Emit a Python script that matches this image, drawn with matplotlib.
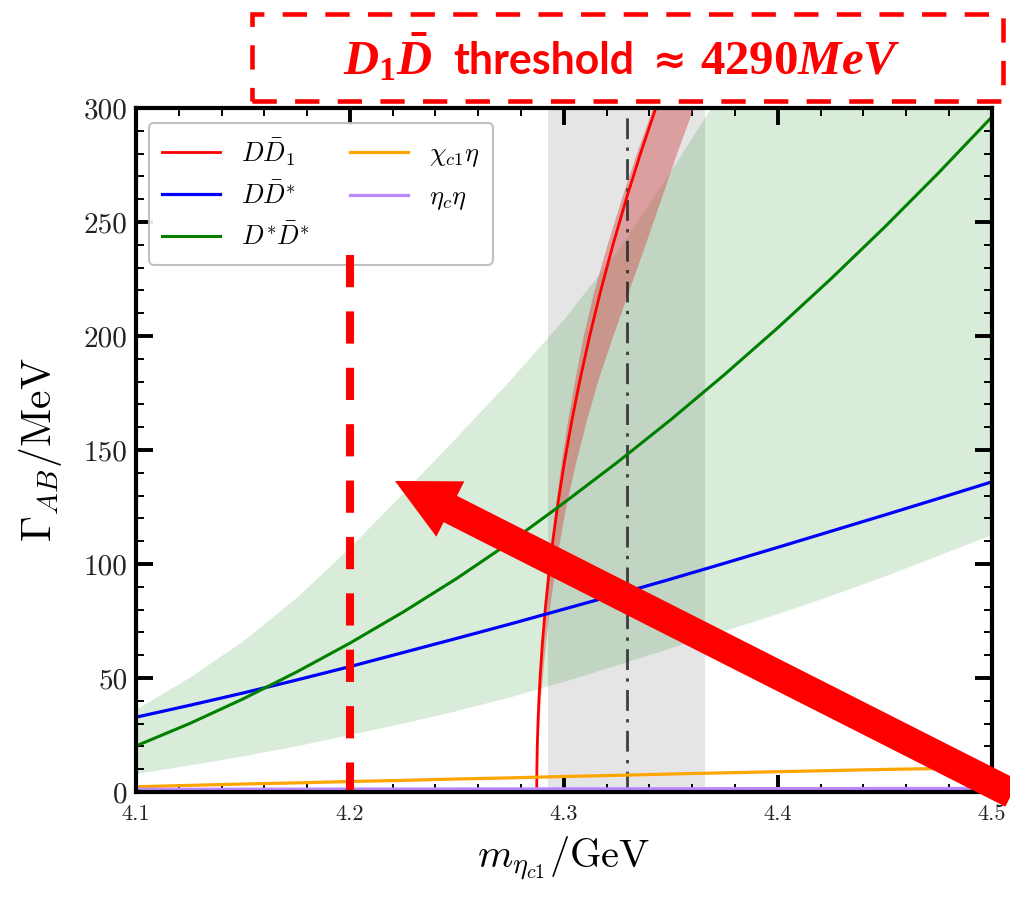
import matplotlib
matplotlib.use("Agg")
import matplotlib.pyplot as plt
from matplotlib.patches import FancyArrow, Rectangle
from matplotlib.transforms import IdentityTransform
from matplotlib.ticker import MultipleLocator

plt.rcParams['mathtext.fontset'] = 'cm'
plt.rcParams['mathtext.rm'] = 'Liberation Serif:bold'
plt.rcParams['mathtext.it'] = 'Liberation Serif:bold:italic'
plt.rcParams['mathtext.bf'] = 'Liberation Serif:bold'

# ---------------- data ----------------
mass = [4.100, 4.125, 4.150, 4.175, 4.200, 4.225, 4.250, 4.275, 4.300,
        4.325, 4.350, 4.375, 4.400, 4.425, 4.450, 4.475, 4.500]
g_DDstar = [32.8, 38.0, 43.4, 49.1, 55.0, 61.2, 67.4, 73.7, 80.2,
            86.7, 93.4, 100.3, 107.3, 114.4, 121.5, 128.7, 136.0]
g_DstarDstar = [20.2, 30.0, 40.8, 52.6, 65.3, 79.0, 93.7, 109.6, 126.8,
                144.6, 163.3, 183.0, 203.6, 225.2, 247.8, 271.4, 296.0]
g_DstarDstar_lo = [7.9, 11.6, 15.6, 20.0, 25.0, 30.0, 35.5, 41.5, 48.3,
                   55.5, 63.0, 70.5, 78.0, 86.0, 94.5, 103.5, 112.7]
g_DstarDstar_hi = [36.0, 50.0, 66.0, 85.0, 107.0, 131.0, 155.5, 180.5, 207.0,
                   237.0, 272.0, 309.0, 348.0, 390.0, 434.0, 480.0, 530.0]
g_chic1eta = [2.3, 2.9, 3.5, 4.0, 4.6, 5.1, 5.7, 6.2, 6.8,
              7.3, 7.9, 8.4, 8.9, 9.4, 9.9, 10.3, 10.8]
g_etaceta = [1.2, 1.2, 1.25, 1.25, 1.3, 1.3, 1.35, 1.35, 1.4,
             1.4, 1.45, 1.45, 1.5, 1.5, 1.55, 1.55, 1.6]

# D Dbar1 channel (steep near threshold): width levels and masses
g_DD1 = [0, 5, 10, 20, 30, 40, 50, 65, 80, 95, 110, 127, 145, 163, 181,
         200, 220, 240, 261, 280, 300]
m_DD1 = [4.28733, 4.28735, 4.28739, 4.28758, 4.28789, 4.28832, 4.28888, 4.28994,
         4.29129, 4.29291, 4.29481, 4.29731, 4.30033, 4.30376, 4.30759,
         4.31207, 4.31726, 4.32296, 4.32946, 4.33582, 4.34299]
m_DD1_lo = [4.28733, 4.28735, 4.28739, 4.28753, 4.28780, 4.28818, 4.28869, 4.28966,
            4.29092, 4.29244, 4.29420, 4.29628, 4.29879, 4.30175, 4.30516,
            4.30903, 4.31408, 4.32015, 4.32712, 4.33386, 4.34145]
m_DD1_hi = [4.28733, 4.28740, 4.28748, 4.28781, 4.28836, 4.28902, 4.28986, 4.29134,
            4.29316, 4.29539, 4.29794, 4.30128, 4.30561, 4.31054, 4.31601,
            4.32282, 4.33035, 4.33792, 4.34568, 4.35265, 4.36043]

mass_band = [4.2925, 4.3659]
mass_center = 4.3293
threshold_mark = 4.2
threshold_mark_top = 235.5

labels = [r'$D\bar{D}_1$', r'$D\bar{D}^{*}$', r'$D^{*}\bar{D}^{*}$', r'$\chi_{c1}\eta$', r'$\eta_c\eta$']
xticks = [4.1, 4.2, 4.3, 4.4, 4.5]
xticklabels = ['4.1', '4.2', '4.3', '4.4', '4.5']
yticks = [0, 50, 100, 150, 200, 250, 300]
yticklabels = ['0', '50', '100', '150', '200', '250', '300']
note_parts = [r'$D_1\bar{D}$', 'threshold', '\u2248', r'$\mathrm{4290}MeV$']

# ---------------- figure ----------------
W, H = 1010, 900
fig = plt.figure(figsize=(W / 100, H / 100), dpi=100)
ax = fig.add_axes([136 / W, 1 - 792 / H, (991.7 - 136) / W, (792 - 108) / H])

ax.axvspan(mass_band[0], mass_band[1], color='#808080', alpha=0.2, lw=0, zorder=1)
ax.fill_between(mass, g_DstarDstar_lo, g_DstarDstar_hi, color='green', alpha=0.15, lw=0, zorder=1)
ax.fill_betweenx(g_DD1, m_DD1_lo, m_DD1_hi, color='#d24a4a', alpha=0.45, lw=0, zorder=2)

l1, = ax.plot(m_DD1, g_DD1, color='red', lw=2.0, zorder=4)
l2, = ax.plot(mass, g_DDstar, color='blue', lw=2.3, zorder=4)
l3, = ax.plot(mass, g_DstarDstar, color='green', lw=2.2, zorder=4)
l4, = ax.plot(mass, g_chic1eta, color='orange', lw=2.3, zorder=4)
l5, = ax.plot(mass, g_etaceta, color='#bb88ff', lw=2.3, zorder=4)

ax.plot([mass_center, mass_center], [0, 300], color='#222222', alpha=0.85, lw=2.0,
        dashes=[7.5, 3, 1.2, 3], zorder=3)

# red dashed marker line
ax.plot([threshold_mark, threshold_mark], [threshold_mark_top, 0], color='red', lw=5.8,
        dashes=[4, 3], dash_capstyle='butt', zorder=6, clip_on=False)

ax.set_xlim(4.1, 4.5)
ax.set_ylim(0, 300)
ax.set_xticks(xticks)
ax.set_xticklabels(xticklabels, fontfamily='cmr10', fontsize=16, color='#222222')
ax.set_yticks(yticks)
ax.set_yticklabels(yticklabels, fontfamily='cmr10', fontsize=21, color='#222222')
ax.xaxis.set_minor_locator(MultipleLocator(0.02))
ax.yaxis.set_minor_locator(MultipleLocator(10))
ax.tick_params(which='both', direction='in', top=True, right=True)
ax.tick_params(which='major', length=12, width=2.8)
ax.tick_params(which='minor', length=6, width=1.4)
ax.tick_params(axis='x', which='major', pad=9)
ax.tick_params(axis='y', which='major', pad=6)
for s in ax.spines.values():
    s.set_linewidth(3)
    s.set_zorder(7)

ax.set_xlabel(r'$m_{\eta_{c1}}/\mathrm{GeV}$', fontsize=29, labelpad=8)
ax.set_ylabel(r'$\Gamma_{AB}/\mathrm{MeV}$', fontsize=30, labelpad=14)

leg = ax.legend([l1, l2, l3, l4, l5], labels, ncol=2, loc='upper left',
                bbox_to_anchor=(0.0152, 0.978), borderaxespad=0, fontsize=19,
                handlelength=2.2, handletextpad=0.8, columnspacing=1.5,
                labelspacing=0.55, borderpad=0.5, fancybox=True, framealpha=0.9,
                edgecolor='#bbbbbb')
leg.get_frame().set_linewidth(1.5)
leg.set_zorder(5)

# dashed red box and annotation text at top
ident = IdentityTransform()
rect = Rectangle((251.7, H - 100.7), 1003 - 251.7, 100.7 - 14.3, fill=False,
                 edgecolor='red', lw=3.3, linestyle=(0, (5.3, 4)), transform=ident)
fig.add_artist(rect)

renderer = fig.canvas.get_renderer()
baseline_y = 1 - 74 / H
fit_parts = [(note_parts[0], (343, 434), 'Liberation Serif'),
             (note_parts[1], (453, 634), 'Lato'),
             (note_parts[3], (700, 902), 'Liberation Serif')]
for part, (x0, x1), fam in fit_parts:
    t = fig.text(x0 / W, baseline_y, part, color='red', fontsize=20, fontweight='bold',
                 fontfamily=fam, ha='left', va='baseline', math_fontfamily='custom')
    w = t.get_window_extent(renderer).width
    t.set_fontsize(20 * (x1 - x0) / w)
fig.text(670 / W, baseline_y, note_parts[2], color='red', fontsize=29, fontweight='bold',
         fontfamily='DejaVu Sans', ha='center', va='baseline')

# big red arrow
arrow = FancyArrow(1012, H - 793.5, 395 - 1012, -(481 - 793.5), width=29.5,
                   head_width=62, head_length=62, length_includes_head=True,
                   color='red', lw=0, transform=ident)
fig.add_artist(arrow)

fig.savefig('out.png', dpi=100)
